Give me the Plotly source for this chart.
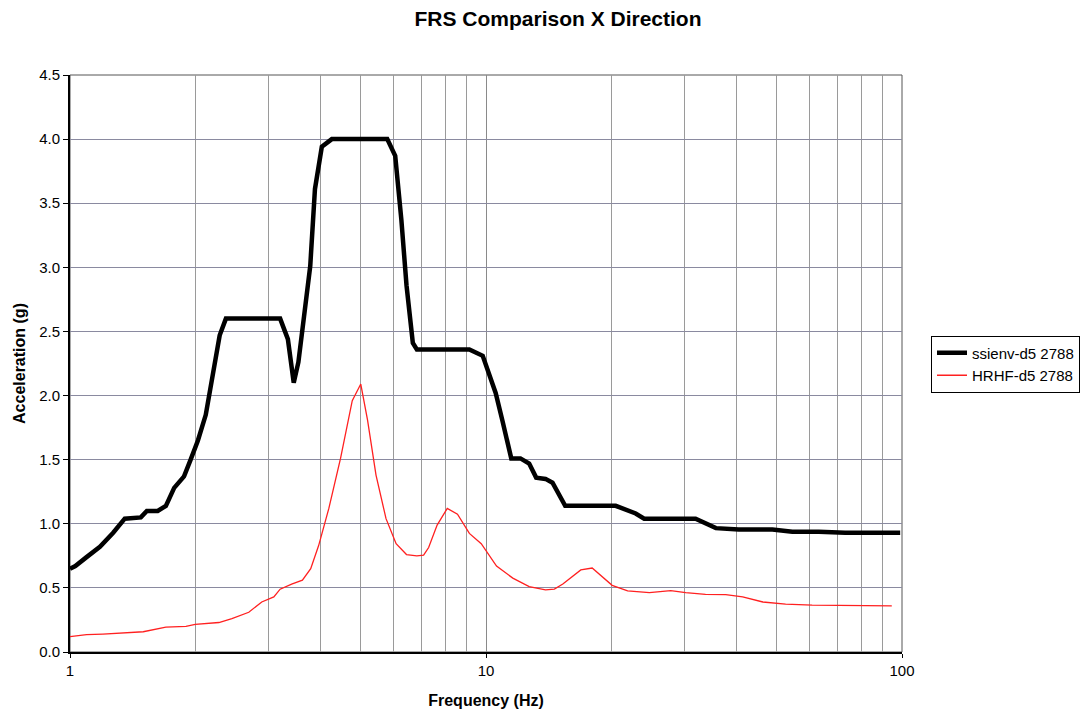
import plotly.graph_objects as go

# ssienv-d5 2788 (envelope)
env_freq = [1.0, 1.03, 1.096, 1.18, 1.27, 1.354, 1.48, 1.53, 1.625, 1.70, 1.78, 1.88, 1.95,
            2.03, 2.12, 2.20, 2.29, 2.37, 3.20, 3.34, 3.45, 3.54, 3.67, 3.78, 3.88, 4.03,
            4.26, 5.79, 6.05, 6.26, 6.44, 6.67, 6.82, 9.12, 9.82, 10.55, 10.96, 11.5,
            12.1, 12.7, 13.2, 13.9, 14.45, 15.5, 20.5, 21.6, 22.9, 24.0, 31.9, 35.7,
            40.5, 48.8, 54.5, 63.1, 73.0, 99.0]
env_acc = [0.65, 0.67, 0.74, 0.82, 0.93, 1.04, 1.05, 1.10, 1.10, 1.14, 1.28, 1.37, 1.50,
           1.65, 1.85, 2.17, 2.47, 2.60, 2.60, 2.44, 2.10, 2.26, 2.65, 3.01, 3.61, 3.94,
           4.00, 4.00, 3.87, 3.37, 2.86, 2.41, 2.36, 2.36, 2.31, 2.02, 1.80, 1.51,
           1.51, 1.47, 1.36, 1.35, 1.32, 1.14, 1.14, 1.11, 1.08, 1.04, 1.04, 0.966,
           0.955, 0.955, 0.937, 0.937, 0.93, 0.93]

# HRHF-d5 2788
hr_freq = [1.0, 1.096, 1.2, 1.35, 1.50, 1.70, 1.90, 2.0, 2.28, 2.45, 2.69, 2.89, 3.09,
           3.2, 3.41, 3.62, 3.79, 3.96, 4.19, 4.47, 4.77, 5.0, 5.19, 5.44, 5.75, 6.08,
           6.44, 6.82, 7.08, 7.28, 7.63, 8.07, 8.54, 9.12, 9.74, 10.6, 11.6, 12.7,
           13.9, 14.6, 15.3, 16.9, 18.0, 20.1, 21.9, 24.7, 27.8, 30.2, 33.7, 37.7,
           41.4, 46.3, 52.5, 60.8, 70.4, 78.7, 94.5]
hr_acc = [0.12, 0.135, 0.14, 0.148, 0.158, 0.194, 0.20, 0.215, 0.23, 0.26, 0.31, 0.39, 0.43,
          0.49, 0.53, 0.56, 0.65, 0.83, 1.12, 1.51, 1.96, 2.09, 1.81, 1.38, 1.04, 0.845,
          0.76, 0.75, 0.755, 0.815, 0.99, 1.12, 1.075, 0.925, 0.845, 0.67, 0.576, 0.51,
          0.484, 0.49, 0.53, 0.64, 0.655, 0.52, 0.476, 0.463, 0.479, 0.463, 0.45, 0.448,
          0.43, 0.39, 0.374, 0.366, 0.364, 0.359, 0.359]

y_ticks = [0, 0.5, 1.0, 1.5, 2.0, 2.5, 3.0, 3.5, 4.0, 4.5]
y_tick_labels = ["0.0", "0.5", "1.0", "1.5", "2.0", "2.5", "3.0", "3.5", "4.0", "4.5"]
x_ticks = [1, 10, 100]
x_tick_labels = ["1", "10", "100"]

FONT = "Liberation Sans, Arial, sans-serif"

fig = go.Figure()
fig.add_trace(go.Scatter(x=env_freq, y=env_acc, mode="lines", name="ssienv-d5 2788",
                         line=dict(color="black", width=4.5)))
fig.add_trace(go.Scatter(x=hr_freq, y=hr_acc, mode="lines", name="HRHF-d5 2788",
                         line=dict(color="#ff2020", width=1.3)))

minor_vals = [m * d for d in (1, 10) for m in range(2, 10)]

W, H = 1083, 707   # page body adds an 8px offset
L, T, PW, PH = 62, 67, 833, 577

fig.update_layout(
    width=W, height=H,
    margin=dict(l=L, r=W - L - PW, t=T, b=H - T - PH),
    paper_bgcolor="white", plot_bgcolor="white",
    font=dict(family=FONT, size=15, color="black"),
    title=dict(text="<b>FRS Comparison X Direction</b>", x=550 / W,
               xanchor="center", y=1 - 3 / H, yanchor="top",
               font=dict(family=FONT, size=21, color="black")),
    xaxis=dict(type="log", range=[0, 2], tickvals=x_ticks, ticktext=x_tick_labels,
               automargin=False,
               showgrid=True, gridcolor="#8a8a8a", gridwidth=1,
               minor=dict(tickvals=minor_vals, showgrid=True, gridcolor="#9a9a9a", gridwidth=1),
               showline=True, linecolor="black", linewidth=2, mirror=False,
               ticks="outside", ticklen=4, tickcolor="black",
               tickfont=dict(family=FONT, size=15),
               title=dict(text="<b>Frequency (Hz)</b>", standoff=17,
                          font=dict(family=FONT, size=16)),
               zeroline=False),
    yaxis=dict(range=[0, 4.5], tickvals=y_ticks, ticktext=y_tick_labels,
               automargin=False,
               showgrid=True, gridcolor="#8a8aa0", gridwidth=1,
               showline=True, linecolor="black", linewidth=2,
               ticks="outside", ticklen=5, tickcolor="black",
               tickfont=dict(family=FONT, size=15),
               title=dict(text="<b>Acceleration (g)</b>", standoff=10,
                          font=dict(family=FONT, size=16)),
               zeroline=False),
    legend=dict(x=(931 - 70) / PW, y=(652 - 364) / PH, xanchor="left", yanchor="middle",
                bordercolor="black", borderwidth=1, bgcolor="white",
                font=dict(family=FONT, size=15), tracegroupgap=0),
    showlegend=True,
)

fig.add_shape(type="rect", xref="paper", yref="paper", x0=0, y0=0, x1=1, y1=1,
              line=dict(color="#555555", width=1), layer="below")

fig.write_html("out.html")
